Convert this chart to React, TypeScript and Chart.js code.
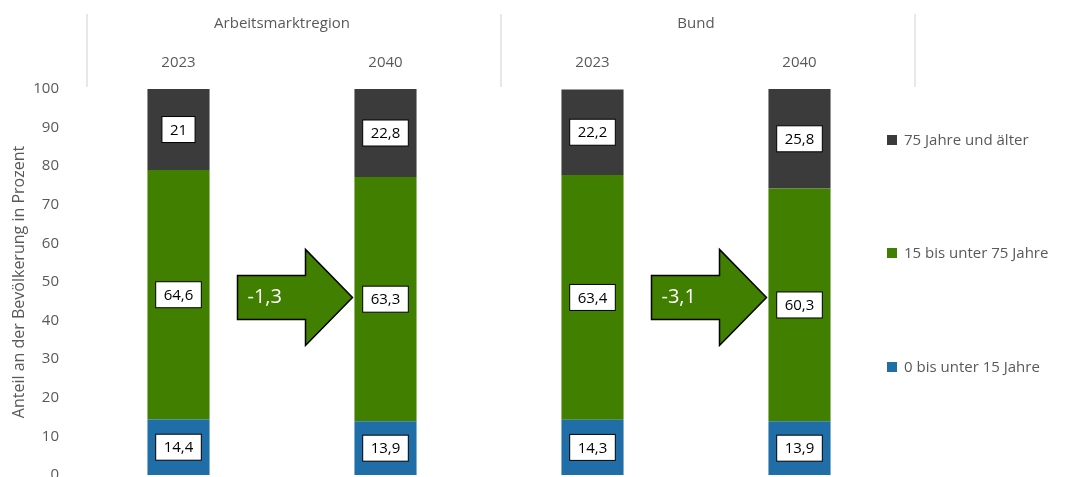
import { useEffect, useRef } from "react";
import { Chart, registerables } from "chart.js";
import type { Plugin } from "chart.js";

Chart.register(...registerables);

const categories = ["2023", "2040", "2023", "2040"];
const groups = ["Arbeitsmarktregion", "Bund"];
const under15 = [14.4, 13.9, 14.3, 13.9];
const middle = [64.6, 63.3, 63.4, 60.3];
const over75 = [21, 22.8, 22.2, 25.8];
const arrowLabels = ["-1,3", "-3,1"];
const legendLabels = ["75 Jahre und älter", "15 bis unter 75 Jahre", "0 bis unter 15 Jahre"];

const BLUE = "#1f6ea7";
const GREEN = "#407f00";
const DARK = "#3b3b3b";
const FONT = "'Open Sans', sans-serif";
const GREY = "#595959";

const decorations: Plugin<"bar"> = {
  id: "decorations",
  afterDatasetsDraw(chart) {
    const { ctx, chartArea } = chart;
    const x = chart.scales.x;
    const y = chart.scales.y;
    ctx.save();

    // value boxes
    chart.data.datasets.forEach((ds, di) => {
      const meta = chart.getDatasetMeta(di);
      meta.data.forEach((bar: any, i) => {
        const v = ds.data[i] as number;
        const text = String(v).replace(".", ",");
        const cy = (bar.y + bar.base) / 2;
        ctx.font = `15px ${FONT}`;
        const w = ctx.measureText(text).width + 16;
        const h = 26;
        ctx.fillStyle = "#fff";
        ctx.strokeStyle = "#000";
        ctx.lineWidth = 1;
        ctx.fillRect(bar.x - w / 2, cy - h / 2, w, h);
        ctx.strokeRect(bar.x - w / 2, cy - h / 2, w, h);
        ctx.fillStyle = "#000";
        ctx.textAlign = "center";
        ctx.textBaseline = "middle";
        ctx.fillText(text, bar.x, cy + 1);
      });
    });

    // arrows
    arrowLabels.forEach((label, k) => {
      const x0 = x.getPixelForValue(k * 2);
      const x1 = x.getPixelForValue(k * 2 + 1);
      const left = x0 + 59;
      const tip = x1 - 33;
      const headX = tip - 47;
      const cy = y.getPixelForValue(46);
      ctx.beginPath();
      ctx.moveTo(left, cy - 22);
      ctx.lineTo(headX, cy - 22);
      ctx.lineTo(headX, cy - 48);
      ctx.lineTo(tip, cy);
      ctx.lineTo(headX, cy + 48);
      ctx.lineTo(headX, cy + 22);
      ctx.lineTo(left, cy + 22);
      ctx.closePath();
      ctx.fillStyle = GREEN;
      ctx.fill();
      ctx.strokeStyle = "#000";
      ctx.lineWidth = 1.5;
      ctx.stroke();
      ctx.fillStyle = "#fff";
      ctx.font = `20px ${FONT}`;
      ctx.textAlign = "left";
      ctx.textBaseline = "middle";
      ctx.fillText(label, left + 10, cy);
    });

    // header
    const step = x.getPixelForValue(1) - x.getPixelForValue(0);
    ctx.strokeStyle = "#d0d0d0";
    ctx.lineWidth = 1;
    for (let g = 0; g <= 2; g++) {
      const lx = x.getPixelForValue(g * 2) - step / 2 + 12;
      ctx.beginPath();
      ctx.moveTo(lx, 14);
      ctx.lineTo(lx, chartArea.top - 2);
      ctx.stroke();
    }
    ctx.fillStyle = GREY;
    ctx.font = `15px ${FONT}`;
    ctx.textAlign = "center";
    ctx.textBaseline = "middle";
    groups.forEach((g, k) => {
      const cx = (x.getPixelForValue(k * 2) + x.getPixelForValue(k * 2 + 1)) / 2;
      ctx.fillText(g, cx, 24);
    });
    categories.forEach((c, i) => {
      ctx.fillText(c, x.getPixelForValue(i), 63);
    });

    // legend
    const colors = [DARK, GREEN, BLUE];
    const legendY = [140, 253, 367];
    ctx.textAlign = "left";
    legendLabels.forEach((l, i) => {
      ctx.fillStyle = colors[i];
      ctx.fillRect(887, legendY[i] - 5, 10, 10);
      ctx.fillStyle = GREY;
      ctx.fillText(l, 904, legendY[i] + 1);
    });
    ctx.restore();
  },
};

export default function App() {
  const ref = useRef<HTMLCanvasElement>(null);

  useEffect(() => {
    document.body.style.margin = "0";
    document.body.style.overflow = "hidden";
    if (!ref.current) return;
    const chart = new Chart(ref.current, {
      type: "bar",
      data: {
        labels: categories,
        datasets: [
          { label: "0 bis unter 15 Jahre", data: under15, backgroundColor: BLUE },
          { label: "15 bis unter 75 Jahre", data: middle, backgroundColor: GREEN },
          { label: "75 Jahre und älter", data: over75, backgroundColor: DARK },
        ],
      },
      options: {
        animation: false,
        responsive: false,
        layout: { padding: { top: 89, bottom: 0, left: 10, right: 182 } },
        datasets: { bar: { categoryPercentage: 1, barPercentage: 0.3 } },
        plugins: { legend: { display: false }, tooltip: { enabled: false } },
        scales: {
          x: {
            display: false,
            stacked: true,
          },
          y: {
            stacked: true,
            min: 0,
            max: 100,
            afterFit: (s) => {
              s.width = 65;
            },
            ticks: { stepSize: 10, color: GREY, font: { family: FONT, size: 15 }, padding: 8 },
            grid: { display: false },
            border: { display: false },
            title: {
              display: true,
              text: "Anteil an der Bevölkerung in Prozent",
              color: GREY,
              font: { family: FONT, size: 16 },
              padding: 0,
            },
          },
        },
      },
      plugins: [decorations],
    });
    return () => chart.destroy();
  }, []);

  return <canvas ref={ref} width={1085} height={492} style={{ display: "block" }} />;
}
